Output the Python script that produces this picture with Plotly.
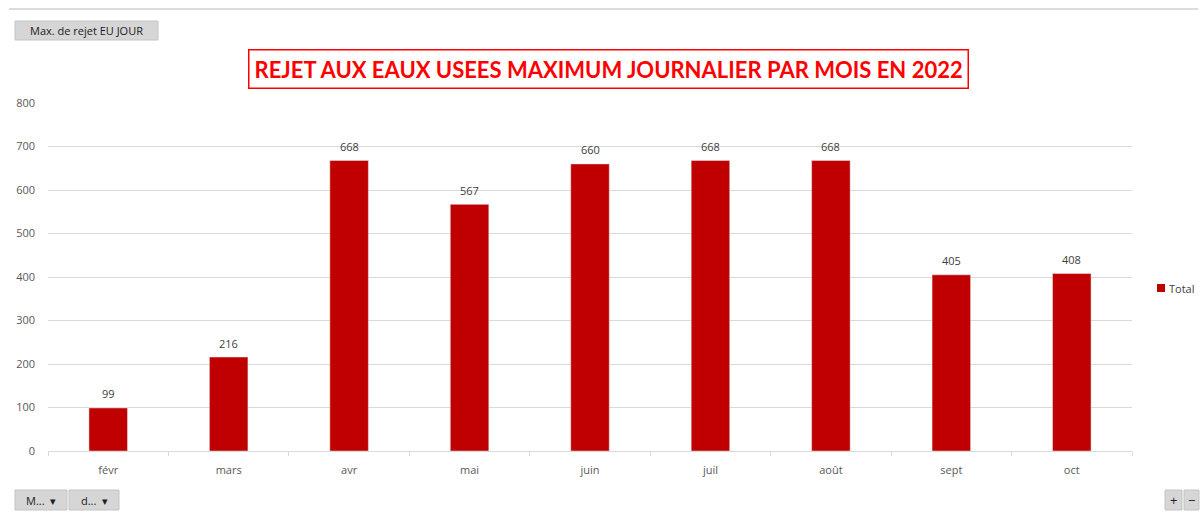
import plotly.graph_objects as go

months = ["févr", "mars", "avr", "mai", "juin", "juil", "août", "sept", "oct"]
values = [99, 216, 668, 567, 660, 668, 668, 405, 408]
y_ticks = [0, 100, 200, 300, 400, 500, 600, 700, 800]
series_name = "Total"

W, H = 1200, 515
L, R, T, B = 48, 1200 - 1132, 103, 515 - 451
PW, PH = W - L - R, H - T - B

def px(x):
    return (x - L) / PW

def py(y):
    return (H - B - y) / PH

fig = go.Figure()
fig.add_trace(go.Bar(
    x=months, y=values, name=series_name,
    marker=dict(color="#c00000"),
    showlegend=False,
))

shapes = []
annotations = []

# data labels
for m, v in zip(months, values):
    annotations.append(dict(x=m, y=v, xref="x", yref="y", text=str(v), showarrow=False,
                            yshift=14, font=dict(size=11, color="#404040", family="Open Sans")))

# top separator line
shapes.append(dict(type="line", xref="paper", yref="paper", x0=px(9), x1=px(1198), y0=py(9), y1=py(9),
                   line=dict(color="#d0d0d0", width=1.5)))

# field buttons
def button(x0, x1, y0, y1, text, size=11):
    shapes.append(dict(type="rect", xref="paper", yref="paper", x0=px(x0), x1=px(x1), y0=py(y1), y1=py(y0),
                       fillcolor="#d6d6d6", line=dict(color="#c4c4c4", width=1), layer="above"))
    annotations.append(dict(xref="paper", yref="paper", x=px((x0 + x1) / 2), y=py((y0 + y1) / 2),
                            text=text, showarrow=False, font=dict(size=size, color="#202020", family="Open Sans"),
                            xanchor="center", yanchor="middle"))

button(15, 158, 21, 40, "Max. de rejet EU JOUR", 11)
button(15, 67, 490, 510, "M...  ▾", 11)
button(69, 119, 490, 510, "d...  ▾", 11)
button(1165, 1182, 490, 510, "+", 13)
button(1184, 1199, 490, 510, "−", 13)

# legend (manual)
shapes.append(dict(type="rect", xref="paper", yref="paper", x0=px(1157), x1=px(1165), y0=py(292), y1=py(284),
                   fillcolor="#c00000", line=dict(width=0)))
annotations.append(dict(xref="paper", yref="paper", x=px(1167), y=py(288), text=series_name, showarrow=False,
                        xanchor="left", yanchor="middle", font=dict(size=11, color="#404040", family="Open Sans")))

# title with red border
annotations.append(dict(xref="paper", yref="paper", x=px(608.5), y=py(68.5),
                        text="<b>REJET AUX EAUX USEES MAXIMUM JOURNALIER PAR MOIS EN 2022</b>",
                        showarrow=False, font=dict(size=22, color="#ff0000", family="Lato"),
                        xanchor="center", yanchor="middle",
                        bordercolor="#ff0000", borderwidth=1.5, borderpad=5, bgcolor="white"))

fig.update_layout(
    width=W, height=H,
    margin=dict(l=L, r=R, t=T, b=B, autoexpand=False),
    paper_bgcolor="white", plot_bgcolor="white",
    bargap=0.68,
    showlegend=False,
    xaxis=dict(showline=True, linecolor="#d9d9d9", ticks="outside", tickson="boundaries",
               ticklen=4, tickcolor="#d9d9d9", automargin=False, ticklabelstandoff=9,
               tickfont=dict(size=11, color="#595959", family="Open Sans"), showgrid=False),
    yaxis=dict(range=[0, 800], tickvals=y_ticks, showgrid=True, gridcolor="#d9d9d9",
               zeroline=False, showline=False, automargin=False,
               tickfont=dict(size=11, color="#595959", family="Open Sans"), ticklabelstandoff=12),
    shapes=shapes, annotations=annotations,
)

fig.write_html("out.html", config={"displayModeBar": False},
               post_script="document.body.style.margin='0';document.body.style.overflow='hidden';")
